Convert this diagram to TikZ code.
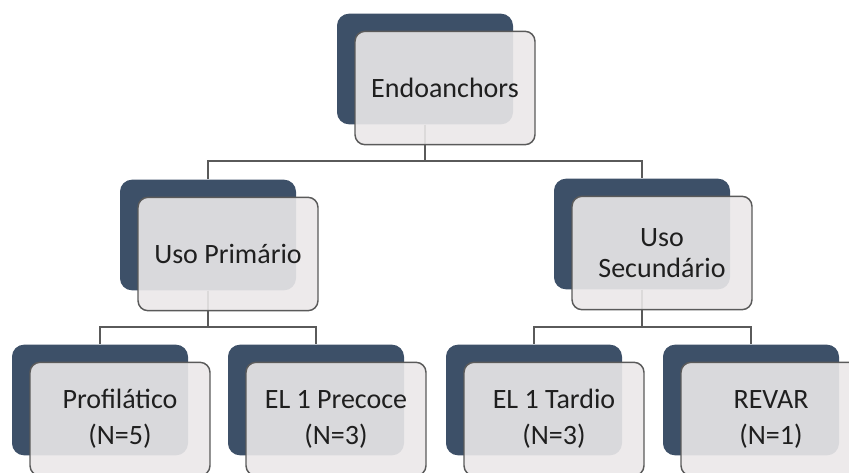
\documentclass[tikz,border=0pt]{standalone}
\usepackage{fontspec}
\setmainfont{Carlito}
\definecolor{slate}{HTML}{3D5068}
\definecolor{paper}{HTML}{EBE8E9}
\definecolor{rim}{HTML}{5A5A5A}
\definecolor{ink}{HTML}{1F1F1F}
\begin{document}
\begin{tikzpicture}[x=0.75pt, y=-0.75pt,
                back/.style={rectangle, rounded corners=9pt, fill=slate, minimum width=132pt, minimum height=83pt, inner sep=0pt},
                front/.style={draw=rim, line width=1.1pt, rectangle, rounded corners=7.5pt, fill=paper, fill opacity=0.9, text opacity=1, text=ink, minimum width=135pt, minimum height=85pt, align=center, inner sep=0pt, font=\fontsize{21}{23}\selectfont},
                link/.style={draw=rim, line width=1.1pt}]

                \useasboundingbox (0,0) rectangle (849,472);
                \clip (0,0) rectangle (849,472);

                % dark boxes at the back
                \node[back] (rootB) at (425,69) {};
                \node[back] (primB) at (208,235) {};
                \node[back] (secB) at (642,234) {};
                \node[back] (profB) at (100,400) {};
                \node[back] (precB) at (316,400) {};
                \node[back] (tardB) at (534,400) {};
                \node[back] (revarB) at (751,400) {};

                % connectors
                \coordinate (bus1) at (425,161);
                \coordinate (bus2) at (208,327);
                \coordinate (bus3) at (642,327);
                \draw[link] (rootB.south) -- (bus1) -| (primB.north);
                \draw[link] (bus1) -| (secB.north);
                \draw[link] (primB.south) -- (bus2) -| (profB.north);
                \draw[link] (bus2) -| (precB.north);
                \draw[link] (secB.south) -- (bus3) -| (tardB.north);
                \draw[link] (bus3) -| (revarB.north);

                % light boxes with the labels
                \node[front] (root) at (445,88) {Endoanchors};
                \node[front] (prim) at (228,254) {Uso Primário};
                \node[front] (sec) at (662,253) {Uso\\Secundário};
                \node[front] (prof) at (120,419) {Profilático\\[4pt](N=5)};
                \node[front] (prec) at (336,419) {EL 1 Precoce\\[4pt](N=3)};
                \node[front] (tard) at (554,419) {EL 1 Tardio\\[4pt](N=3)};
                \node[front] (revar) at (771,419) {REVAR\\[4pt](N=1)};
            \end{tikzpicture}
\end{document}
